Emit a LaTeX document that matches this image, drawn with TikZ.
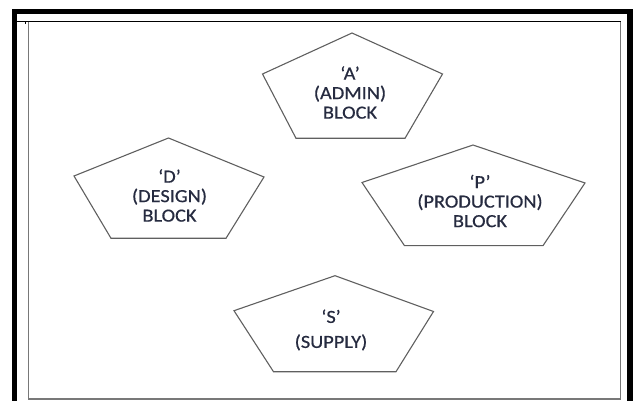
\documentclass[tikz,border=0pt]{standalone}
\usepackage{fontspec}
\setmainfont{Carlito}[FakeStretch=1.1,FakeBold=0.6]
\definecolor{txt}{HTML}{262B40}
\definecolor{pentline}{RGB}{95,95,95}
\definecolor{framegray}{RGB}{120,120,120}
\tikzset{
  pent/.style={draw=pentline, line width=1.1pt, line join=miter},
  blocklabel/.style={text=txt, align=center, font=\fontsize{18.5}{19.5}\selectfont, inner sep=0pt},
  outerframe/.style={line width=5.5pt, draw=black},
  innerframe/.style={line width=1.6pt, draw=framegray}
}
\begin{document}
\begin{tikzpicture}[x=1pt,y=-1pt]
\useasboundingbox (0,0) rectangle (638,401);
% outer thick frame (open at bottom)
\draw[outerframe] (14.5,401) -- (14.5,11.5) -- (630,11.5) -- (630,401);
% inner frame
\draw[innerframe] (28.5,22) -- (28.5,399) -- (620.5,399) -- (620.5,22);
\draw[line width=1pt, black] (17,22) -- (621.3,22);
\draw[line width=0.8pt, black] (25,22) -- (25,24);
% pentagons
\draw[pent] (352,33) -- (442.5,74) -- (405,138.3) -- (296,138.3) -- (262.5,74) -- cycle;
\draw[pent] (168.5,138) -- (264,177) -- (226,238.3) -- (111,238.3) -- (74,176) -- cycle;
\draw[pent] (473,145) -- (585,183) -- (543,245.7) -- (404.5,245.7) -- (362,182.5) -- cycle;
\draw[pent] (335,275.7) -- (433.5,311.5) -- (396,371.7) -- (273.5,371.7) -- (234,310.7) -- cycle;
% labels
\node[blocklabel] (a) at (350,92.5) {‘A’\\(ADMIN)\\BLOCK};
\node[blocklabel] (d) at (169.5,195.5) {‘D’\\(DESIGN)\\BLOCK};
\node[blocklabel] (p) at (480,201) {‘P’\\(PRODUCTION)\\BLOCK};
\node[blocklabel] (s) at (331,330) {‘S’\\[5.5pt](SUPPLY)};
\end{tikzpicture}
\end{document}
